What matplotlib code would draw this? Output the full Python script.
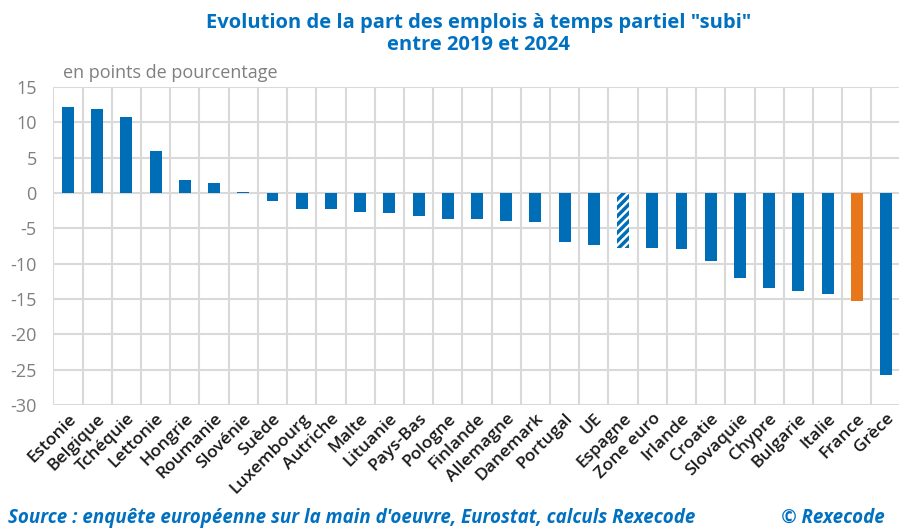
import matplotlib
matplotlib.use("Agg")
import matplotlib.pyplot as plt
import numpy as np

# Data: change in share of involuntary part-time (pp), 2019 -> 2024
countries = ["Estonie", "Belgique", "Tchéquie", "Lettonie", "Hongrie", "Roumanie",
             "Slovénie", "Suède", "Luxembourg", "Autriche", "Malte", "Lituanie",
             "Pays-Bas", "Pologne", "Finlande", "Allemagne", "Danemark", "Portugal",
             "UE", "Espagne", "Zone euro", "Irlande", "Croatie", "Slovaquie",
             "Chypre", "Bulgarie", "Italie", "France", "Grèce"]
values = [12.2, 11.9, 10.8, 6.0, 1.9, 1.4,
          0.15, -1.1, -2.2, -2.3, -2.7, -2.8,
          -3.2, -3.7, -3.7, -4.0, -4.1, -6.9,
          -7.35, -7.8, -7.75, -7.9, -9.6, -12.0,
          -13.4, -13.8, -14.3, -15.3, -25.7]
yticks = [15, 10, 5, 0, -5, -10, -15, -20, -25, -30]

blue = "#006EB6"
orange = "#E8761A"
grey_txt = "#7f7f7f"
grid_col = "#d9d9d9"

plt.rcParams['font.family'] = ['Open Sans', 'DejaVu Sans']
plt.rcParams['hatch.linewidth'] = 2.5

fig = plt.figure(figsize=(8.99, 5.29), dpi=100)
ax = fig.add_axes([53.4 / 899, 1 - 405 / 529, 847.2 / 899, (405 - 87) / 529])

x = np.arange(len(countries))
colors = [orange if c == "France" else blue for c in countries]
bars = ax.bar(x, values, width=0.41, color=colors, zorder=3)
# Espagne drawn hatched
i = countries.index("Espagne")
bars[i].set_facecolor("white")
bars[i].set_edgecolor(blue)
bars[i].set_hatch("////")
bars[i].set_linewidth(0)

ax.set_xlim(-0.5, len(countries) - 0.5)
ax.set_ylim(-30, 15)
ax.set_yticks(yticks)
ax.set_yticklabels([str(v) for v in yticks], fontsize=13, color=grey_txt)
ax.set_xticks(x)
ax.set_xticklabels(countries, rotation=45, ha="right", rotation_mode="anchor",
                   fontsize=12.5, fontweight="semibold", color="#1a1a1a")
ax.set_xticks(np.arange(-0.5, len(countries), 1), minor=True)
ax.tick_params(axis="both", which="both", length=0)
ax.tick_params(axis="y", pad=12)
ax.tick_params(axis="x", pad=4)
ax.grid(axis="y", which="major", color=grid_col, linewidth=1.5, zorder=0)
ax.grid(axis="x", which="minor", color=grid_col, linewidth=1.5, zorder=0)
ax.grid(axis="x", which="major", visible=False)
for s in ax.spines.values():
    s.set_visible(False)

fig.text(0.532, 1 - 13 / 529, "Evolution de la part des emplois à temps partiel \"subi\"\nentre 2019 et 2024",
         ha="center", va="top", fontsize=14.5, fontweight="bold", color="#0070C0",
         linespacing=1.15)
fig.text(63 / 899, 1 - 73 / 529, "en points de pourcentage", ha="left", va="center",
         fontsize=13, color=grey_txt)
fig.text(8 / 899, 1 - 518 / 529, "Source : enquête européenne sur la main d'oeuvre, Eurostat, calculs Rexecode",
         ha="left", va="center", fontsize=13.5, fontweight="bold", fontstyle="italic", color="#0070C0")
fig.text(885 / 899, 1 - 518 / 529, "© Rexecode", ha="right", va="center",
         fontsize=13.5, fontweight="bold", fontstyle="italic", color="#0070C0")

plt.savefig("out.png", dpi=100)
